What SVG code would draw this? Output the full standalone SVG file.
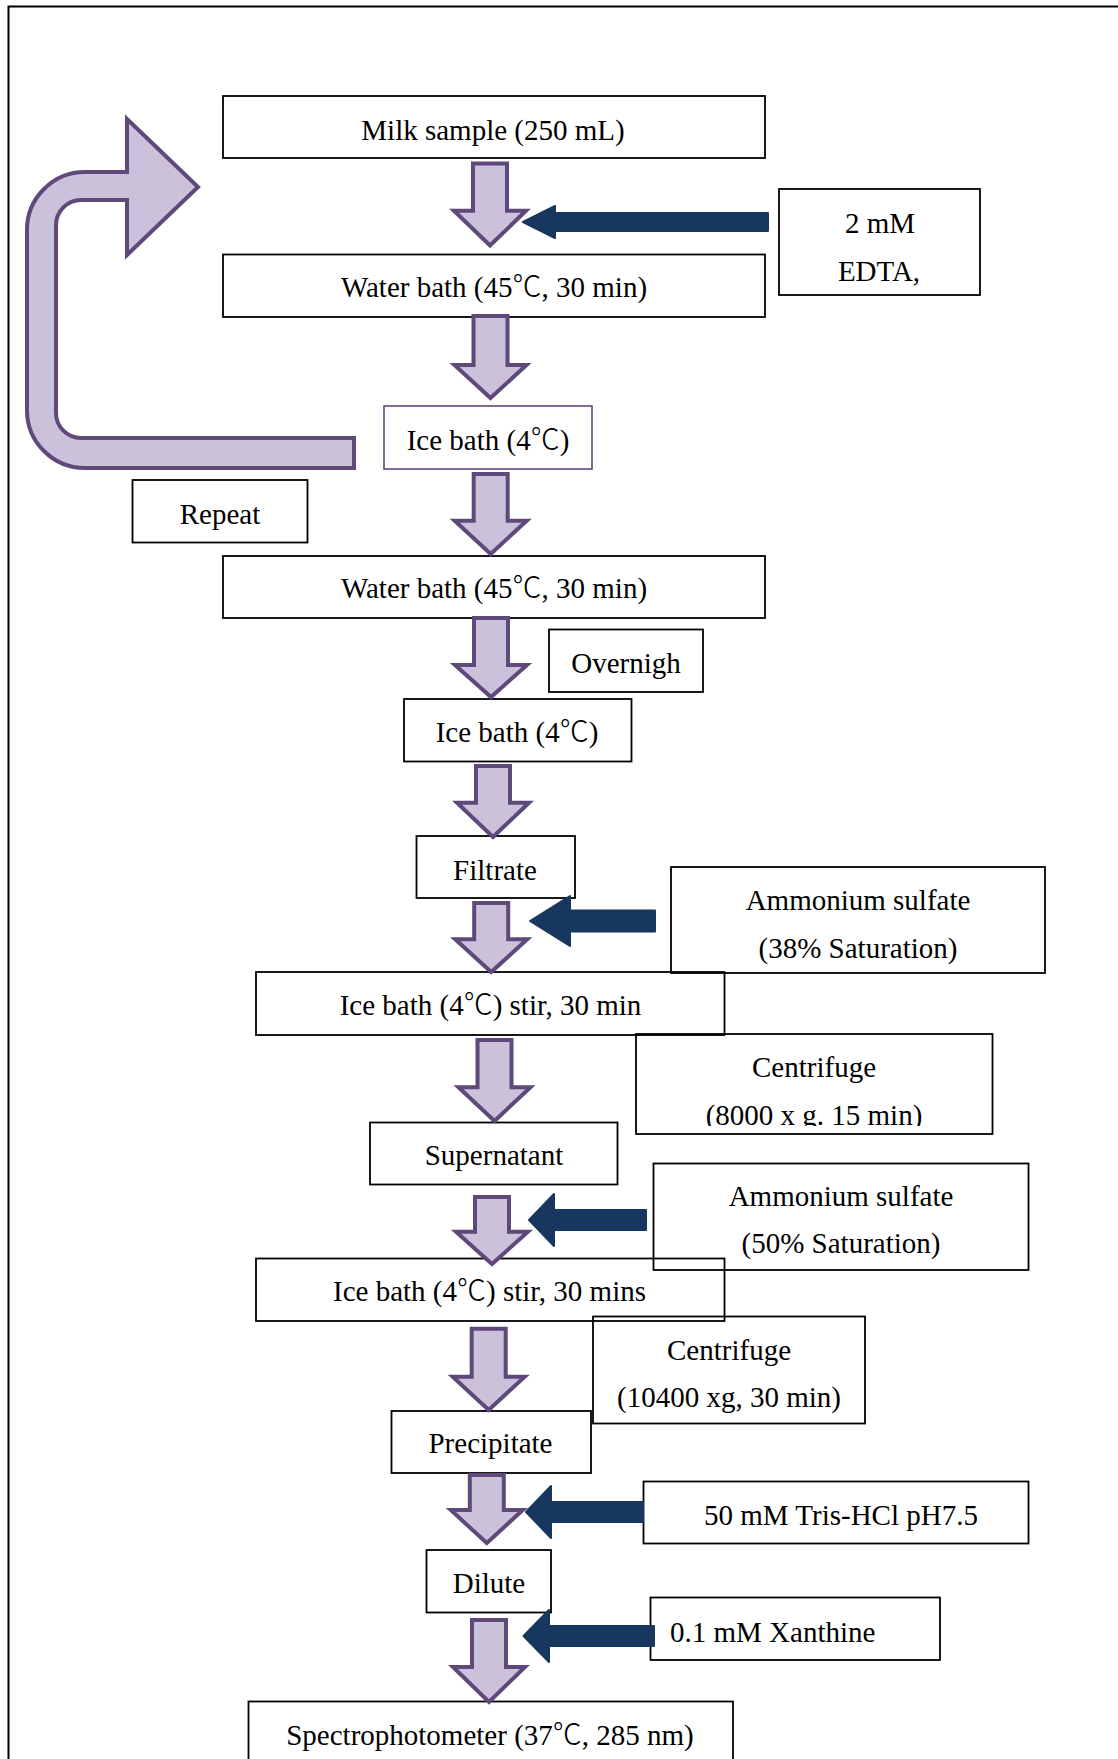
<svg xmlns="http://www.w3.org/2000/svg" width="1118" height="1759" viewBox="0 0 1118 1759">
<style>
.box{fill:none;stroke:#000;stroke-width:1.8}
.pbox{fill:none;stroke:#5f497a;stroke-width:1.6}
.t{font-family:"Liberation Serif","Noto Sans CJK SC",serif;font-size:29px;fill:#000;text-anchor:middle}
.ts{font-family:"Liberation Serif","Noto Sans CJK SC",serif;font-size:29px;fill:#000;text-anchor:start}
.c{font-family:"Noto Sans CJK SC",sans-serif;font-weight:300}
.pa{fill:#ccc1da;stroke:#5f497a;stroke-width:4;stroke-linejoin:miter}
.na{fill:#17375e;stroke:#17375e;stroke-width:2;stroke-linejoin:round}
</style>
<defs>
<clipPath id="cc1"><rect x="636" y="1034" width="357" height="92"/></clipPath>
</defs>
<rect width="1118" height="1759" fill="#fff"/>
<path d="M8.5,1759 V6.5 H1118" fill="none" stroke="#000" stroke-width="2"/>

<g id="n-milk"><rect class="box" x="223" y="96" width="542" height="62"/><text class="t" x="493" y="140">Milk sample (250 mL)</text></g>
<g id="n-edta"><rect class="box" x="779" y="189" width="201" height="106"/><text class="t" x="880" y="233">2 mM</text><text class="t" x="879" y="281">EDTA,</text></g>
<g id="n-water1"><rect class="box" x="223" y="254.5" width="542" height="62.5"/><text class="t" x="494" y="297">Water bath (45<tspan class="c">℃</tspan>, 30 min)</text></g>
<g id="n-ice1"><rect class="pbox" x="384" y="406" width="208" height="63"/><text class="t" x="488" y="450">Ice bath (4<tspan class="c">℃</tspan>)</text></g>
<g id="n-repeat"><rect class="box" x="132.5" y="480" width="175" height="62.5"/><text class="t" x="220" y="524">Repeat</text></g>
<g id="n-water2"><rect class="box" x="223" y="556" width="542" height="62"/><text class="t" x="494" y="598">Water bath (45<tspan class="c">℃</tspan>, 30 min)</text></g>
<g id="n-overnigh"><rect class="box" x="549" y="629.5" width="154" height="62.5"/><text class="t" x="626" y="673">Overnigh</text></g>
<g id="n-ice2"><rect class="box" x="404" y="699" width="227.5" height="62.5"/><text class="t" x="517" y="742">Ice bath (4<tspan class="c">℃</tspan>)</text></g>
<g id="n-filtrate"><rect class="box" x="416.5" y="836" width="158.5" height="62"/><text class="t" x="495" y="880">Filtrate</text></g>
<g id="n-amm1"><rect class="box" x="671" y="867" width="374" height="106"/><text class="t" x="858" y="910">Ammonium sulfate</text><text class="t" x="858" y="958">(38% Saturation)</text></g>
<g id="n-icestir1"><rect class="box" x="256" y="972" width="468.5" height="63"/><text class="t" x="490.5" y="1015">Ice bath (4<tspan class="c">℃</tspan>) stir, 30 min</text></g>
<g id="n-cent1"><rect class="box" x="636" y="1034" width="356.5" height="100"/><text class="t" x="814" y="1077">Centrifuge</text><text class="t" x="814" y="1125" clip-path="url(#cc1)">(8000 x g. 15 min)</text></g>
<g id="n-supernatant"><rect class="box" x="370" y="1122.5" width="247.5" height="62"/><text class="t" x="494" y="1165">Supernatant</text></g>
<g id="n-amm2"><rect class="box" x="653.5" y="1163.5" width="375" height="106.5"/><text class="t" x="841" y="1206">Ammonium sulfate</text><text class="t" x="841" y="1253">(50% Saturation)</text></g>
<g id="n-icestir2"><rect class="box" x="256" y="1258.5" width="468.5" height="62.5"/><text class="t" x="489.5" y="1301">Ice bath (4<tspan class="c">℃</tspan>) stir, 30 mins</text></g>
<g id="n-cent2"><rect class="box" x="593" y="1316.5" width="272" height="107"/><text class="t" x="729" y="1360">Centrifuge</text><text class="t" x="729" y="1407">(10400 xg, 30 min)</text></g>
<g id="n-precipitate"><rect class="box" x="391.5" y="1411" width="199.5" height="62"/><text class="t" x="490.5" y="1453">Precipitate</text></g>
<g id="n-tris"><rect class="box" x="643.5" y="1481.5" width="385" height="62"/><text class="ts" x="704" y="1525">50 mM Tris-HCl pH7.5</text></g>
<g id="n-dilute"><rect class="box" x="426.5" y="1550" width="124.5" height="62.5"/><text class="t" x="489" y="1593">Dilute</text></g>
<g id="n-xanthine"><rect class="box" x="650.5" y="1597.5" width="289.5" height="62.5"/><text class="ts" x="670" y="1642">0.1 mM Xanthine</text></g>
<g id="n-spectro"><rect class="box" x="248.5" y="1701.5" width="484.5" height="100"/><text class="t" x="490" y="1745">Spectrophotometer (37<tspan class="c">℃</tspan>, 285 nm)</text></g>

<g id="connectors">
<path class="pa" d="M354,438 H81 A25,25 0 0 1 56,413 V225 A25,25 0 0 1 81,200 H127 V255 L198,187 L127,119 V172 H86 A58,58 0 0 0 27,231 V409 A58,58 0 0 0 86,468 H354 Z"/>
<path class="pa" d="M473,163.5 H507 V210.7 H526 L490,245.5 L454,210.7 H473 Z"/>
<path class="pa" d="M473.5,316 H507.5 V365 H526.5 L490.5,398 L454.5,365 H473.5 Z"/>
<path class="pa" d="M473.7,474 H507.7 V520.7 H526.7 L490.7,554 L454.7,520.7 H473.7 Z"/>
<path class="pa" d="M474,618 H508 V665 H527 L491,697 L455,665 H474 Z"/>
<path class="pa" d="M476,766 H510 V802.7 H529 L493,837 L457,802.7 H476 Z"/>
<path class="pa" d="M474.2,903 H508.2 V939.3 H527.2 L491.2,972 L455.2,939.3 H474.2 Z"/>
<path class="pa" d="M477.5,1040 H511.5 V1087.3 H530.5 L494.5,1121 L458.5,1087.3 H477.5 Z"/>
<path class="pa" d="M475,1197 H509 V1231.7 H528 L492,1264 L456,1231.7 H475 Z"/>
<path class="pa" d="M471.7,1328.7 H505.7 V1376.7 H524.7 L488.7,1410 L452.7,1376.7 H471.7 Z"/>
<path class="pa" d="M469.8,1475 H503.8 V1510 H522.8 L486.8,1543 L450.8,1510 H469.8 Z"/>
<path class="pa" d="M472,1620 H506 V1667 H525 L489,1702 L453,1667 H472 Z"/>
<path class="na" d="M523,222 L555,206 L555,213 L768,213 L768,231 L555,231 L555,238 Z"/>
<path class="na" d="M530,921 L570,896 L570,910.5 L655,910.5 L655,931.5 L570,931.5 L570,946 Z"/>
<path class="na" d="M529,1220 L554,1194 L554,1210 L646,1210 L646,1230 L554,1230 L554,1246 Z"/>
<path class="na" d="M526,1512 L551,1486 L551,1502 L643,1502 L643,1522 L551,1522 L551,1538 Z"/>
<path class="na" d="M523.5,1636 L549,1610 L549,1626 L654,1626 L654,1646 L549,1646 L549,1662 Z"/>
</g>
</svg>
